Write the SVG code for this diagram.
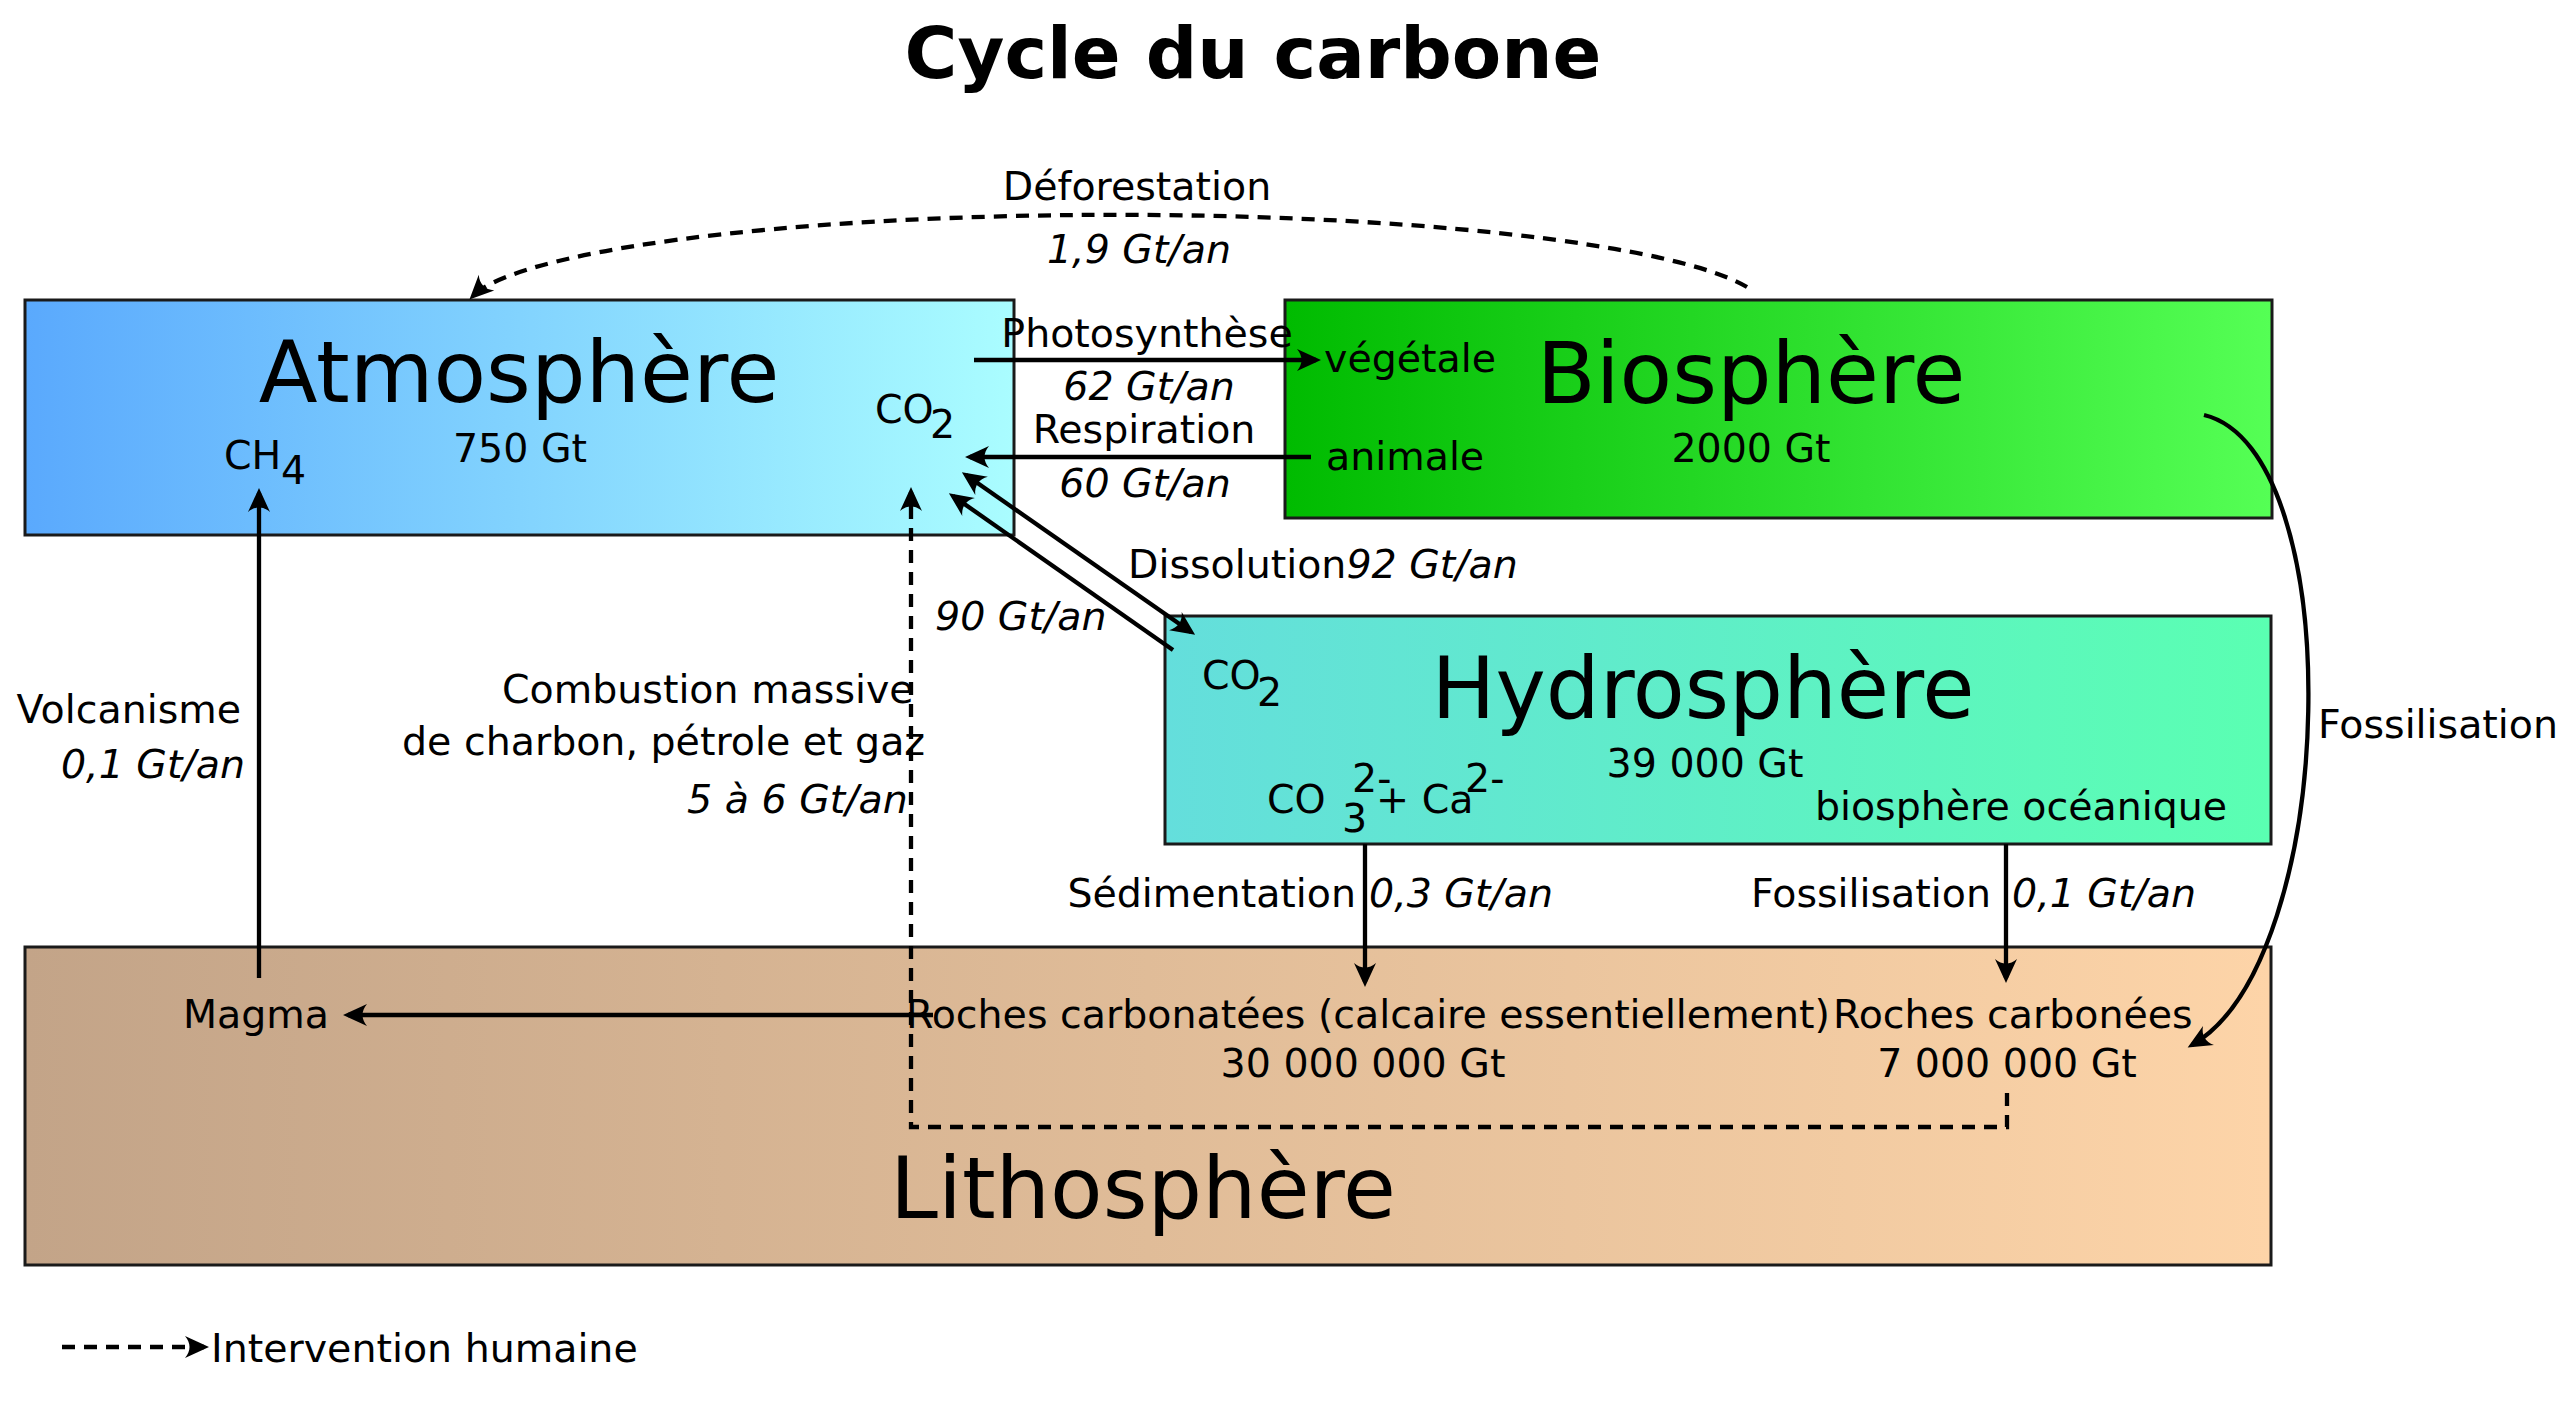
<svg xmlns="http://www.w3.org/2000/svg" width="2560" height="1428" viewBox="0 0 2560 1428">
<defs>
<linearGradient id="gAtm" x1="0" y1="0" x2="1" y2="0"><stop offset="0" stop-color="#5aa9fd"/><stop offset="1" stop-color="#aafdff"/></linearGradient>
<linearGradient id="gBio" x1="0" y1="0" x2="1" y2="0"><stop offset="0" stop-color="#00bb00"/><stop offset="1" stop-color="#55ff55"/></linearGradient>
<linearGradient id="gHyd" x1="0" y1="0" x2="1" y2="0"><stop offset="0" stop-color="#64dedc"/><stop offset="1" stop-color="#5affb2"/></linearGradient>
<linearGradient id="gLit" x1="0" y1="0" x2="1" y2="0"><stop offset="0" stop-color="#c3a488"/><stop offset="1" stop-color="#fdd4a8"/></linearGradient>
<marker id="ah" markerUnits="userSpaceOnUse" markerWidth="40" markerHeight="40" refX="0" refY="0" viewBox="-25 -15 40 30" orient="auto-start-reverse" overflow="visible">
<path d="M5,0 L-19,-11 C-13,-4 -13,4 -19,11 Z" fill="#000"/>
</marker>
</defs>
<style>
text{font-family:"DejaVu Sans","Liberation Sans",sans-serif;fill:#000}
.t{font-size:39.5px}
.i{font-size:39.5px;font-style:italic}
.big{font-size:86px}
.title{font-size:72px;font-weight:bold}
.box{stroke:#1a1a1a;stroke-width:3}
.ln{fill:none;stroke:#000;stroke-width:4.3}
.dash{fill:none;stroke:#000;stroke-width:4.3;stroke-dasharray:13,9}
.m{marker-end:url(#ah)}
</style>
<text class="title" x="1253" y="78" text-anchor="middle">Cycle du carbone</text>

<g id="atmosphere">
<rect class="box" x="25" y="300" width="989" height="235" fill="url(#gAtm)"/>
<text class="big" x="519" y="402" text-anchor="middle">Atmosphère</text>
<text class="t" x="520" y="462" text-anchor="middle">750 Gt</text>
<text class="t" x="224" y="469">CH</text><text class="t" x="281" y="484">4</text>
<text class="t" x="875" y="423">CO</text><text class="t" x="930" y="438">2</text>
</g>

<g id="biosphere">
<rect class="box" x="1285" y="300" width="987" height="218" fill="url(#gBio)"/>
<text class="big" x="1751" y="403" text-anchor="middle">Biosphère</text>
<text class="t" x="1751" y="462" text-anchor="middle">2000 Gt</text>
<text class="t" x="1324" y="372">végétale</text>
<text class="t" x="1326" y="470">animale</text>
</g>

<g id="hydrosphere">
<rect class="box" x="1165" y="616" width="1106" height="228" fill="url(#gHyd)"/>
<text class="big" x="1703" y="718" text-anchor="middle" style="font-size:85px">Hydrosphère</text>
<text class="t" x="1705" y="777" text-anchor="middle">39 000 Gt</text>
<text class="t" x="1202" y="689">CO</text><text class="t" x="1257" y="706">2</text>
<text class="t" x="1267" y="813">CO</text>
<text class="t" x="1342" y="832">3</text>
<text class="t" x="1352" y="792">2-</text>
<text class="t" x="1376" y="813">+ Ca</text>
<text class="t" x="1465" y="792">2-</text>
<text class="t" x="2021" y="820" text-anchor="middle">biosphère océanique</text>
</g>

<g id="lithosphere">
<rect class="box" x="25" y="947" width="2246" height="318" fill="url(#gLit)"/>
<text class="big" x="1143" y="1218" text-anchor="middle">Lithosphère</text>
<text class="t" x="183" y="1028">Magma</text>
<text class="t" x="906" y="1028">Roches carbonatées (calcaire essentiellement)</text>
<text class="t" x="1363" y="1077" text-anchor="middle">30 000 000 Gt</text>
<text class="t" x="1833" y="1028">Roches carbonées</text>
<text class="t" x="2007" y="1077" text-anchor="middle">7 000 000 Gt</text>
</g>

<g id="connectors">
<path class="dash m" d="M1747,287 A650,95 0 0 0 473,296"/>
<path class="ln m" d="M974,360 H1316"/>
<path class="ln m" d="M1311,457 H970"/>
<path class="ln m" d="M966,475 L1191,632" style="marker-start:url(#ah)"/>
<path class="ln m" d="M1173,650 L953,496"/>
<path class="ln m" d="M259,978 V493"/>
<path class="dash m" d="M2007,1093 V1127 H911 V492"/>
<path class="ln m" d="M1365,844 V982"/>
<path class="ln m" d="M2006,844 V978"/>
<path class="ln m" d="M933,1015 H348"/>
<path class="ln m" d="M2204,415 C2350,450 2340,960 2192,1045"/>
<path class="dash m" d="M62,1347 H204"/>
</g>

<g id="labels">
<text class="t" x="1137" y="200" text-anchor="middle">Déforestation</text>
<text class="i" x="1139" y="263" text-anchor="middle">1,9 Gt/an</text>
<text class="t" x="1147" y="347" text-anchor="middle">Photosynthèse</text>
<text class="i" x="1149" y="400" text-anchor="middle">62 Gt/an</text>
<text class="t" x="1144" y="443" text-anchor="middle">Respiration</text>
<text class="i" x="1145" y="497" text-anchor="middle">60 Gt/an</text>
<text class="t" x="1128" y="578">Dissolution<tspan font-style="italic">92 Gt/an</tspan></text>
<text class="i" x="935" y="630">90 Gt/an</text>
<text class="t" x="241" y="723" text-anchor="end">Volcanisme</text>
<text class="i" x="245" y="778" text-anchor="end">0,1 Gt/an</text>
<text class="t" x="502" y="703">Combustion massive</text>
<text class="t" x="402" y="755">de charbon, pétrole et gaz</text>
<text class="i" x="687" y="813">5 à 6 Gt/an</text>
<text class="t" x="1356" y="907" text-anchor="end">Sédimentation</text>
<text class="i" x="1369" y="907">0,3 Gt/an</text>
<text class="t" x="1991" y="907" text-anchor="end">Fossilisation</text>
<text class="i" x="2012" y="907">0,1 Gt/an</text>
<text class="t" x="2318" y="738">Fossilisation</text>
<text class="t" x="211" y="1362">Intervention humaine</text>
</g>
</svg>
